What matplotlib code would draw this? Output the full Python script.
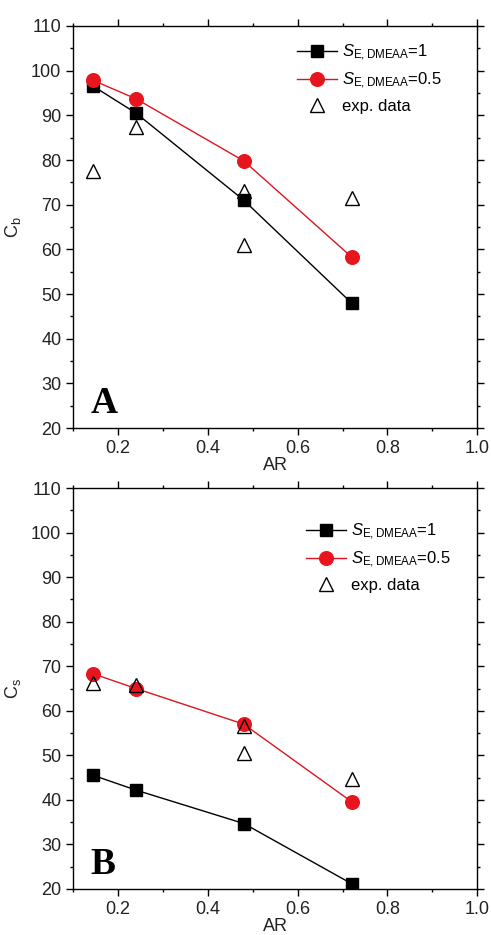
import matplotlib
matplotlib.use("Agg")
import matplotlib.pyplot as plt
from matplotlib.ticker import MultipleLocator

plt.rcParams['font.family'] = ['Liberation Sans', 'DejaVu Sans']
plt.rcParams['mathtext.fontset'] = 'custom'
plt.rcParams['mathtext.rm'] = 'Liberation Sans'
plt.rcParams['mathtext.it'] = 'Liberation Sans:italic'

##### data #########
ar = [0.145, 0.24, 0.48, 0.72]

cb_s1 = [96.5, 90.5, 71.0, 48.0]
cb_s05 = [97.8, 93.7, 79.8, 58.3]
cb_exp_x = [0.145, 0.24, 0.48, 0.48, 0.72]
cb_exp_y = [77.5, 87.3, 73.0, 61.0, 71.5]

cs_s1 = [45.5, 42.2, 34.7, 21.2]
cs_s05 = [68.3, 65.0, 57.0, 39.6]
cs_exp_x = [0.145, 0.24, 0.48, 0.48, 0.72]
cs_exp_y = [66.3, 65.8, 56.5, 50.5, 44.7]

lab1 = r'$S_{\mathrm{E,DMEAA}}$=1'
lab2 = r'$S_{\mathrm{E,DMEAA}}$=0.5'
####################

fig = plt.figure(figsize=(4.91, 9.35), dpi=100)
ax1 = fig.add_axes([0.149, 0.5422, 0.823, 0.430])
ax2 = fig.add_axes([0.149, 0.0492, 0.823, 0.4288])


def draw(ax, s1, s05, ex, ey, ylab, letter, leg_xy):
    ax.plot(ar, s1, 'k-', marker='s', ms=9, lw=1, label=lab1)
    ax.plot(ar, s05, '-', color='#e0141e', marker='o', mfc='#e8151f',
            mec='#e8151f', ms=9.8, lw=1, label=lab2)
    ax.plot(ex, ey, ls='none', marker='^', ms=9.5, mfc='none', mec='k',
            mew=1, label='exp. data')
    ax.set_xlim(0.1, 1.0)
    ax.set_ylim(20, 110)
    ax.xaxis.set_major_locator(MultipleLocator(0.2))
    ax.xaxis.set_minor_locator(MultipleLocator(0.1))
    ax.yaxis.set_major_locator(MultipleLocator(10))
    ax.yaxis.set_minor_locator(MultipleLocator(5))
    ax.tick_params(which='both', direction='out', top=True, right=True,
                   labelsize=13, width=1, labelcolor='#222222')
    ax.tick_params(which='major', length=5)
    ax.tick_params(which='minor', length=2.5)
    ax.set_xticks([0.2, 0.4, 0.6, 0.8, 1.0])
    ax.set_xticklabels(['0.2', '0.4', '0.6', '0.8', '1.0'])
    ax.set_xlabel('AR', fontsize=13, labelpad=0, color='#222222')
    ax.set_ylabel(ylab, fontsize=13, labelpad=6, color='#222222')
    for sp in ax.spines.values():
        sp.set_linewidth(1)
    ax.text(0.042, 0.037, letter, transform=ax.transAxes, fontsize=27,
            fontweight='bold', family='Liberation Serif')
    ax.legend(loc='upper right', bbox_to_anchor=leg_xy, frameon=False,
              fontsize=12, handlelength=2.4, labelspacing=0.45,
              handletextpad=0.3)


draw(ax1, cb_s1, cb_s05, cb_exp_x, cb_exp_y, r'C$_{\mathrm{b}}$', 'A',
     (0.95, 0.995))
draw(ax2, cs_s1, cs_s05, cs_exp_x, cs_exp_y, r'C$_{\mathrm{s}}$', 'B',
     (0.972, 0.953))

fig.savefig('out.png', dpi=100)
